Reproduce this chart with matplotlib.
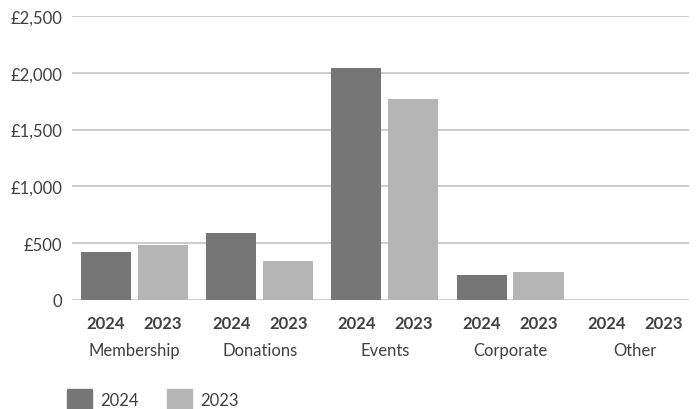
import matplotlib
matplotlib.use('Agg')
import matplotlib.pyplot as plt
import numpy as np
from matplotlib.patches import Patch

plt.rcParams['font.family'] = ['Lato', 'DejaVu Sans']

categories = ['Membership', 'Donations', 'Events', 'Corporate', 'Other']
years = ['2024', '2023']
income_2024 = [425, 590, 2040, 220, 0]
income_2023 = [480, 345, 1765, 245, 0]
yticks = [0, 500, 1000, 1500, 2000, 2500]
ytick_labels = ['0', '£500', '£1,000', '£1,500', '£2,000', '£2,500']

dark = '#767676'
light = '#b5b5b5'
text_col = '#404040'
fs = 12

fig = plt.figure(figsize=(6.99, 4.10), dpi=100)
ax = fig.add_axes([72 / 699, 1 - 301 / 410, (689 - 72) / 699, 284 / 410])

x = np.arange(len(categories))
off = 0.2275
w = 0.40
ax.bar(x - off, income_2024, width=w, color=dark, zorder=3)
ax.bar(x + off, income_2023, width=w, color=light, zorder=3)

ax.set_xlim(-0.5, 4.43)
ax.set_ylim(0, 2500)
ax.set_yticks(yticks)
ax.set_yticklabels(ytick_labels, color=text_col, fontsize=fs)
ax.grid(axis='y', color='#c4c4c4', linewidth=1.2, zorder=0)

# year labels under each bar
pos = np.concatenate([x - off, x + off])
ax.set_xticks(pos)
ax.set_xticklabels([years[0]] * len(x) + [years[1]] * len(x),
                   fontweight='bold', color=text_col, fontsize=fs)
ax.tick_params(axis='both', length=0)
ax.tick_params(axis='x', pad=10.5)
ax.tick_params(axis='y', pad=7)

# category names below the year labels
for xi, name in zip(x, categories):
    ax.text(xi, -0.177, name, transform=ax.get_xaxis_transform(),
            ha='center', va='center', color=text_col, fontsize=fs)

for s in ax.spines.values():
    s.set_visible(False)

handles = [Patch(color=dark), Patch(color=light)]
fig.legend(handles, years, loc='lower left', bbox_to_anchor=(67 / 699, 0.0),
           ncol=2, frameon=False, borderpad=0, borderaxespad=0,
           handlelength=1.5, handleheight=1.45,
           columnspacing=1.7, handletextpad=0.5, fontsize=fs,
           labelcolor=text_col)

fig.savefig('out.png', dpi=100)
